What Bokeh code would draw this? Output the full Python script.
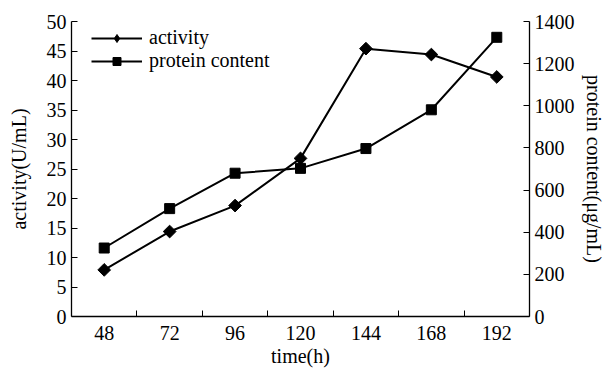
from bokeh.plotting import figure
from bokeh.models import Range1d, LinearAxis, FixedTicker, Legend, LegendItem
from bokeh.embed import file_html
from bokeh.resources import INLINE

time_h = [48, 72, 96, 120, 144, 168, 192]
activity = [7.9, 14.4, 18.8, 26.8, 45.4, 44.4, 40.6]
protein = [325, 512, 680, 703, 797, 981, 1325]
x_ticks = [48, 72, 96, 120, 144, 168, 192]
x_minor = [60, 84, 108, 132, 156, 180]
left_ticks = list(range(0, 51, 5))
right_ticks = list(range(0, 1401, 200))

FONT = "Liberation Serif"
FS = "20px"

W, H = 598, 368
FW, FH = 458, 295
ML, MT = 71, 21

p = figure(width=W, height=H, frame_width=FW, frame_height=FH,
           output_backend="svg", toolbar_location=None,
           x_range=Range1d(36, 204), y_range=Range1d(0, 50),
           min_border_left=ML, min_border_top=MT,
           min_border_right=W - ML - FW, min_border_bottom=H - MT - FH)
p.extra_y_ranges = {"prot": Range1d(0, 1400)}
p.outline_line_color = None
p.grid.visible = False
p.background_fill_color = "white"
p.border_fill_color = "white"

def style(ax):
    ax.axis_line_color = "black"
    ax.axis_line_width = 1.3
    ax.major_tick_in = 6
    ax.major_tick_out = 0
    ax.minor_tick_in = 0
    ax.minor_tick_out = 0
    ax.major_tick_line_color = "black"
    ax.major_label_text_font = FONT
    ax.major_label_text_font_size = FS
    ax.major_label_text_color = "black"
    ax.axis_label_text_font = FONT
    ax.axis_label_text_font_size = FS
    ax.axis_label_text_font_style = "normal"
    ax.axis_label_text_color = "black"
    ax.major_label_standoff = 5
    ax.axis_label_standoff = 8

xa = p.xaxis[0]
style(xa)
xa.ticker = FixedTicker(ticks=x_ticks, minor_ticks=x_minor)
xa.major_tick_line_color = None
xa.minor_tick_in = 6
xa.minor_tick_out = 0
xa.minor_tick_line_color = "black"
xa.major_label_standoff = 9
xa.axis_label = "time(h)"
xa.axis_label_standoff = 2

ya = p.yaxis[0]
style(ya)
ya.ticker = FixedTicker(ticks=left_ticks)
ya.axis_label = "activity(U/mL)"
ya.axis_label_standoff = 14

ra = LinearAxis(y_range_name="prot", ticker=FixedTicker(ticks=right_ticks),
                axis_label="protein content(\u03bcg/mL)")
style(ra)
ra.axis_label_standoff = 5
p.add_layout(ra, "right")

l1 = p.line(time_h, activity, line_color="black", line_width=2)
m1 = p.scatter(time_h, activity, marker="square", angle=0.785398, size=9,
               fill_color="black", line_color="black")
l2 = p.line(time_h, protein, y_range_name="prot", line_color="black", line_width=2)
m2 = p.scatter(time_h, protein, y_range_name="prot", marker="square", size=10,
               fill_color="black", line_color="black")

# legend-only marker glyphs (not visible in the plot area)
nan = float("nan")
d1 = p.scatter([nan], [nan], marker="diamond", size=11,
               fill_color="black", line_color="black")
d2 = p.scatter([nan], [nan], marker="square", size=7,
               fill_color="black", line_color="black")

leg = Legend(items=[LegendItem(label="activity", renderers=[l1, d1]),
                    LegendItem(label="protein content", renderers=[l2, d2])],
             location=(20, FH - 51))
leg.border_line_color = None
leg.background_fill_alpha = 0
leg.label_text_font = FONT
leg.label_text_font_size = FS
leg.label_text_color = "black"
leg.glyph_width = 51
leg.glyph_height = 20
leg.spacing = 0
leg.padding = 4
leg.margin = 0
leg.label_standoff = 7
p.add_layout(leg, "center")

open("out.html", "w").write(file_html(p, INLINE))
